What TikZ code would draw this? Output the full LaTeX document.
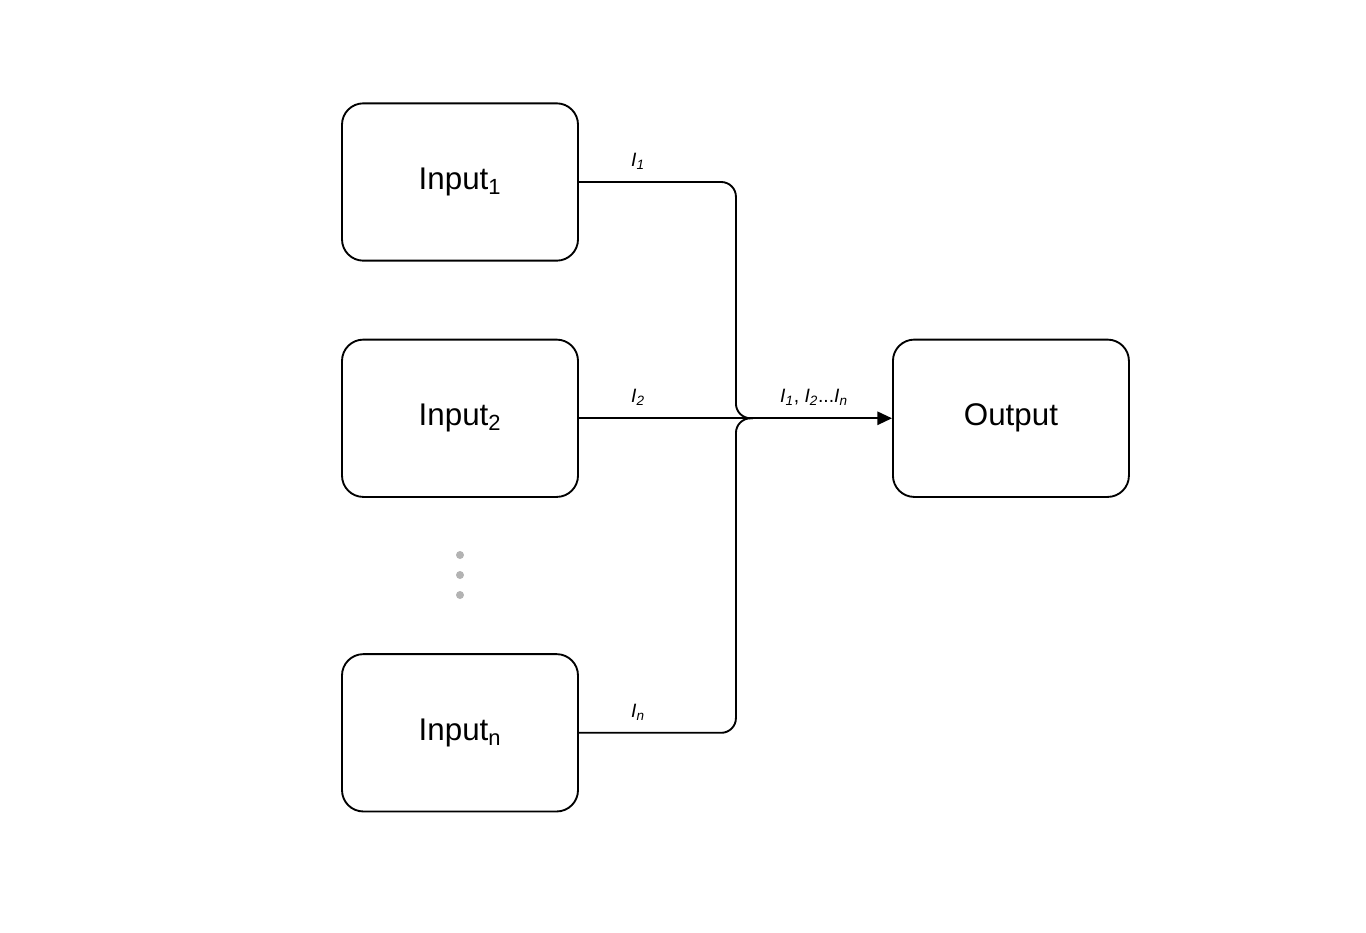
\documentclass[tikz,border=0pt]{standalone}
\usepackage{fontspec}
\setmainfont{Liberation Sans}
\usetikzlibrary{arrows.meta,positioning,calc}
\definecolor{DotGray}{HTML}{B3B3B3}
\newcommand{\wsig}[1]{\textit{I}\textsubscript{\textit{#1}}}

\begin{document}
\begin{tikzpicture}[
  x=0.75pt,y=-0.75pt,
  node distance=57.8pt and 234.8pt,
  box/.style={draw,line width=1.4pt,rounded corners=16pt,minimum width=177pt,minimum height=118pt,font=\fontsize{23.5}{27}\selectfont},
  wire/.style={line width=1.4pt,rounded corners=11pt},
  arrow/.style={line width=1.4pt,-{Triangle[length=11pt,width=10pt]}},
  lbl/.style={font=\fontsize{14.5}{17}\selectfont,above=6pt},
  dot/.style={circle,fill=DotGray,inner sep=0pt,minimum size=6pt}
]
\useasboundingbox (0,0) rectangle (1366,932);
\node[box] (in1) at (460,182) {Input\textsubscript{1}};
\node[box,below=of in1] (in2) {Input\textsubscript{2}};
\node[box,below=116.5pt of in2] (inn) {Input\textsubscript{n}};
\node[box,right=of in2] (out) {Output};
\foreach \y [count=\i] in {555,575,595}
  \node[dot] (dot\i) at (460,\y) {};
\coordinate (bus) at ($(in2.east)+(157,0)$);
\coordinate (merge) at ($(bus)+(17,0)$);
\draw[wire] (in1.east) -| (bus) -- (merge);
\draw[wire] (inn.east) -| (bus) -- (merge);
\draw[arrow] (in2.east) -- (out.west);
\node[lbl] (l1) at ($(in1.east)+(59,0)$) {\wsig{1}};
\node[lbl] (l2) at ($(in2.east)+(59,0)$) {\wsig{2}};
\node[lbl] (ln) at ($(inn.east)+(59,0)$) {\wsig{n}};
\node[lbl] (lall) at ($(bus)!0.5!(out.west)$) {\wsig{1}, \wsig{2}...\wsig{n}};
\end{tikzpicture}
\end{document}
